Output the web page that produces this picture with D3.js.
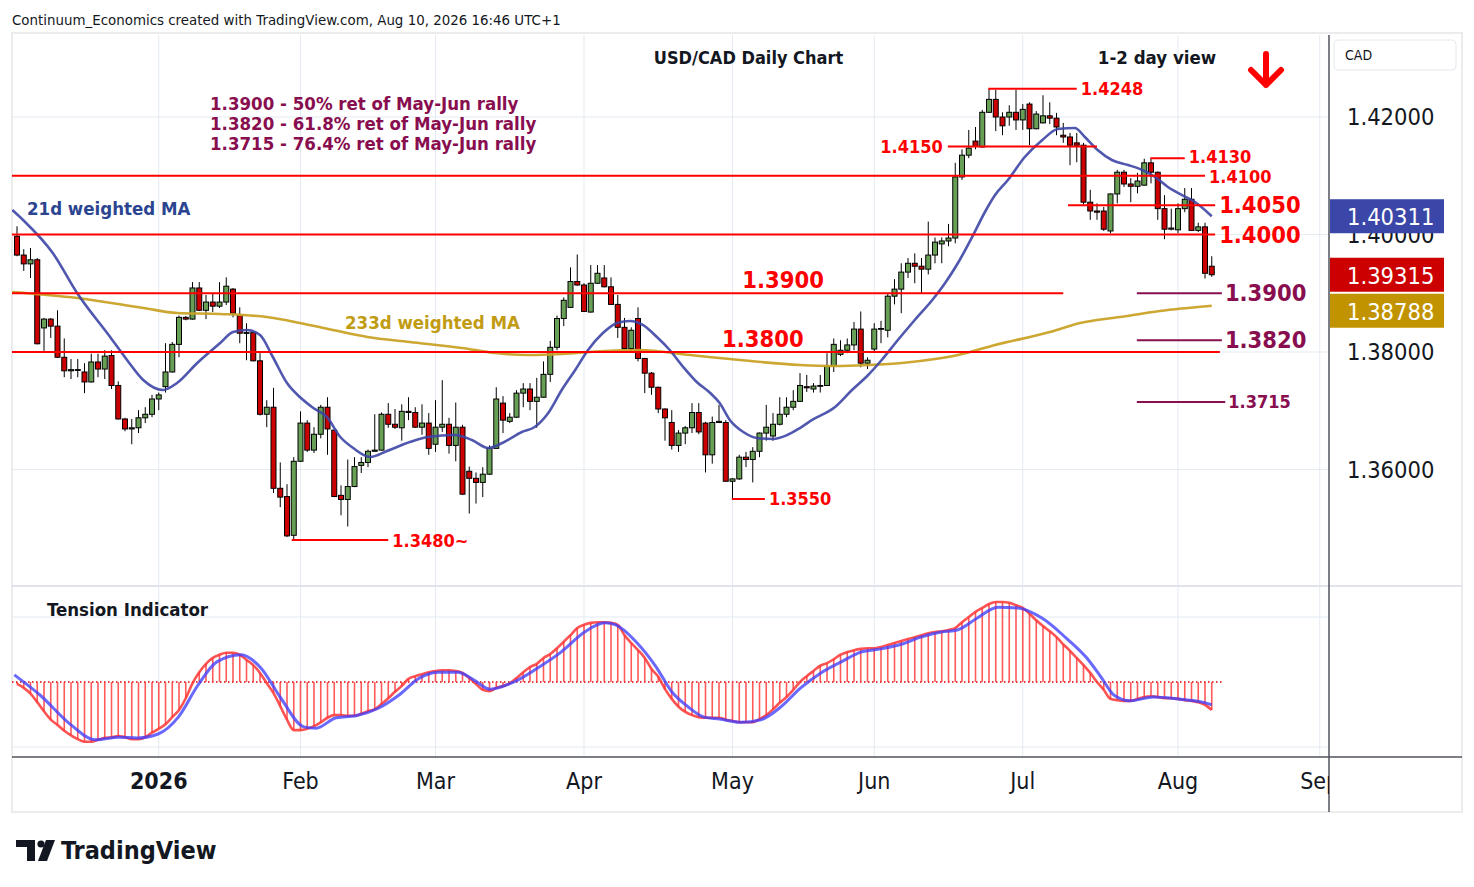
<!DOCTYPE html>
<html><head><meta charset="utf-8">
<script src="https://cdn.jsdelivr.net/npm/d3@7"></script>
<style>
body{margin:0;background:#fff}
svg{display:block}
text{font-family:"DejaVu Sans Condensed","DejaVu Sans",sans-serif;font-stretch:condensed}
</style></head>
<body><svg id="c" width="1474" height="887"></svg>
<script>
// ---------- DATA ----------
const openP=[1.3997,1.3965,1.3950,1.3957,1.3841,1.3856,1.3844,1.3791,1.3768,1.3770,
1.3766,1.3749,1.3783,1.3771,1.3794,1.3743,1.3686,1.3669,1.3671,1.3688,
1.3694,1.3720,1.3741,1.3766,1.3813,1.3859,1.3856,1.3909,1.3871,1.3885,
1.3878,1.3885,1.3907,1.3862,1.3832,1.3833,1.3785,1.3694,1.3706,1.3568,
1.3554,1.3488,1.3614,1.3679,1.3633,1.3660,1.3706,1.3667,1.3556,1.3549,
1.3571,1.3607,1.3612,1.3631,1.3633,1.3694,1.3677,1.3671,1.3699,1.3697,
1.3672,1.3679,1.3643,1.3672,1.3677,1.3641,1.3672,1.3597,1.3585,1.3578,
1.3592,1.3636,1.3713,1.3682,1.3689,1.3730,1.3737,1.3716,1.3723,1.3762,
1.3808,1.3857,1.3876,1.3920,1.3914,1.3868,1.3917,1.3926,1.3911,1.3881,
1.3842,1.3806,1.3857,1.3789,1.3764,1.3740,1.3703,1.3680,1.3641,1.3662,
1.3671,1.3697,1.3679,1.3625,1.3680,1.3680,1.3580,1.3584,1.3621,1.3617,
1.3631,1.3662,1.3657,1.3677,1.3694,1.3706,1.3716,1.3741,1.3737,1.3742,
1.3743,1.3776,1.3796,1.3803,1.3812,1.3839,1.3781,1.3805,1.3839,1.3837,
1.3895,1.3907,1.3936,1.3951,1.3946,1.3941,1.3965,1.3984,1.3989,1.3994,
1.4098,1.4135,1.4159,1.4149,1.4208,1.4230,1.4200,1.4200,1.4208,1.4195,
1.4222,1.4180,1.4190,1.4202,1.4198,1.4169,1.4166,1.4156,1.4152,1.4055,
1.4040,1.4040,1.4006,1.4069,1.4106,1.4086,1.4082,1.4084,1.4122,1.4106,
1.4044,1.4009,1.4008,1.4044,1.4060,1.4007,1.4013,1.3946];
const highP=[1.4014,1.3975,1.3977,1.3960,1.3858,1.3858,1.3871,1.3823,1.3788,1.3788,
1.3781,1.3797,1.3797,1.3803,1.3803,1.3750,1.3688,1.3686,1.3701,1.3706,
1.3727,1.3731,1.3815,1.3817,1.3862,1.3861,1.3919,1.3919,1.3897,1.3900,
1.3919,1.3927,1.3909,1.3876,1.3849,1.3834,1.3798,1.3718,1.3739,1.3612,
1.3575,1.3621,1.3699,1.3684,1.3672,1.3710,1.3723,1.3668,1.3573,1.3617,
1.3621,1.3621,1.3634,1.3694,1.3697,1.3713,1.3703,1.3711,1.3723,1.3706,
1.3711,1.3696,1.3718,1.3752,1.3688,1.3714,1.3676,1.3605,1.3595,1.3604,
1.3641,1.3740,1.3725,1.3696,1.3735,1.3747,1.3747,1.3756,1.3784,1.3819,
1.3862,1.3893,1.3944,1.3966,1.3917,1.3948,1.3948,1.3948,1.3927,1.3897,
1.3858,1.3842,1.3876,1.3790,1.3766,1.3741,1.3704,1.3701,1.3667,1.3674,
1.3713,1.3713,1.3681,1.3690,1.3710,1.3684,1.3585,1.3625,1.3630,1.3638,
1.3663,1.3710,1.3696,1.3723,1.3723,1.3735,1.3764,1.3761,1.3747,1.3761,
1.3798,1.3823,1.3820,1.3823,1.3851,1.3869,1.3791,1.3849,1.3853,1.3900,
1.3924,1.3951,1.3960,1.3968,1.3960,1.4022,1.3995,1.3995,1.4018,1.4122,
1.4145,1.4178,1.4183,1.4212,1.4248,1.4246,1.4208,1.4220,1.4246,1.4222,
1.4225,1.4210,1.4237,1.4225,1.4207,1.4190,1.4173,1.4173,1.4156,1.4076,
1.4053,1.4047,1.4070,1.4110,1.4110,1.4096,1.4105,1.4129,1.4130,1.4107,
1.4067,1.4044,1.4053,1.4079,1.4079,1.4020,1.4020,1.3963];
const lowP=[1.3963,1.3938,1.3926,1.3813,1.3802,1.3824,1.3790,1.3757,1.3754,1.3757,
1.3730,1.3748,1.3757,1.3754,1.3737,1.3685,1.3665,1.3643,1.3662,1.3679,
1.3689,1.3701,1.3731,1.3765,1.3791,1.3854,1.3855,1.3870,1.3856,1.3868,
1.3875,1.3880,1.3859,1.3815,1.3786,1.3784,1.3692,1.3672,1.3560,1.3536,
1.3485,1.3480,1.3613,1.3630,1.3628,1.3653,1.3625,1.3553,1.3522,1.3503,
1.3570,1.3594,1.3604,1.3630,1.3632,1.3671,1.3669,1.3649,1.3684,1.3671,
1.3659,1.3625,1.3630,1.3664,1.3627,1.3614,1.3557,1.3525,1.3542,1.3553,
1.3591,1.3635,1.3662,1.3679,1.3688,1.3706,1.3701,1.3671,1.3722,1.3749,
1.3803,1.3844,1.3875,1.3913,1.3868,1.3867,1.3916,1.3910,1.3880,1.3824,
1.3805,1.3802,1.3784,1.3730,1.3727,1.3696,1.3649,1.3634,1.3630,1.3643,
1.3662,1.3660,1.3595,1.3610,1.3679,1.3579,1.3550,1.3582,1.3604,1.3578,
1.3621,1.3649,1.3649,1.3675,1.3689,1.3701,1.3715,1.3732,1.3731,1.3731,
1.3742,1.3766,1.3793,1.3798,1.3803,1.3774,1.3771,1.3800,1.3815,1.3825,
1.3881,1.3866,1.3926,1.3917,1.3900,1.3932,1.3951,1.3951,1.3980,1.3985,
1.4093,1.4130,1.4145,1.4148,1.4207,1.4176,1.4169,1.4185,1.4178,1.4178,
1.4152,1.4179,1.4189,1.4188,1.4169,1.4156,1.4118,1.4123,1.4051,1.4025,
1.4025,1.4006,1.4002,1.4053,1.4081,1.4055,1.4070,1.4083,1.4087,1.4025,
1.3992,1.4007,1.4002,1.4038,1.4006,1.4004,1.3925,1.3928];
const closeP=[1.3965,1.3950,1.3957,1.3814,1.3856,1.3844,1.3791,1.3768,1.3770,1.3769,
1.3749,1.3783,1.3771,1.3793,1.3743,1.3686,1.3669,1.3671,1.3688,1.3694,
1.3720,1.3727,1.3766,1.3813,1.3859,1.3856,1.3909,1.3871,1.3885,1.3878,
1.3885,1.3912,1.3866,1.3832,1.3833,1.3785,1.3694,1.3706,1.3568,1.3553,
1.3487,1.3614,1.3679,1.3633,1.3660,1.3706,1.3669,1.3554,1.3549,1.3571,
1.3605,1.3612,1.3631,1.3633,1.3694,1.3677,1.3672,1.3699,1.3697,1.3672,
1.3679,1.3636,1.3672,1.3677,1.3641,1.3672,1.3558,1.3585,1.3578,1.3592,
1.3636,1.3720,1.3684,1.3689,1.3730,1.3737,1.3716,1.3723,1.3762,1.3808,
1.3857,1.3888,1.3920,1.3914,1.3869,1.3917,1.3934,1.3911,1.3881,1.3842,
1.3806,1.3837,1.3789,1.3764,1.3740,1.3703,1.3688,1.3641,1.3662,1.3671,
1.3697,1.3664,1.3625,1.3680,1.3682,1.3580,1.3584,1.3621,1.3617,1.3631,
1.3662,1.3672,1.3677,1.3694,1.3706,1.3716,1.3743,1.3739,1.3742,1.3743,
1.3776,1.3813,1.3803,1.3812,1.3839,1.3781,1.3786,1.3839,1.3840,1.3895,
1.3907,1.3936,1.3951,1.3946,1.3941,1.3965,1.3987,1.3989,1.3994,1.4098,
1.4135,1.4147,1.4150,1.4208,1.4230,1.4200,1.4185,1.4208,1.4195,1.4213,
1.4180,1.4205,1.4202,1.4198,1.4183,1.4166,1.4152,1.4152,1.4055,1.4040,
1.4038,1.4009,1.4069,1.4106,1.4086,1.4082,1.4091,1.4122,1.4106,1.4044,
1.4009,1.4011,1.4044,1.4060,1.4007,1.4013,1.3934,1.39315];

// 21d weighted MA, [bar index, price]
const ma21=[[-0.7,1.40417],[0.9,1.40247],[5.3,1.39685],[8.9,1.39004],[13.8,1.38255],[16.3,1.37864],[18.7,1.37523],[21.6,1.37353],[23.7,1.37472],[26.7,1.37813],[30.1,1.38153],[32.0,1.38340],[34.1,1.38374],[36.0,1.38289],[37.9,1.37915],[40.0,1.37472],[41.9,1.37234],[43.9,1.37047],[45.9,1.36894],[47.9,1.36553],[49.8,1.36366],[52.3,1.36213],[54.8,1.36315],[58.2,1.36468],[60.9,1.36553],[64.9,1.36587],[67.4,1.36502],[69.8,1.36366],[71.9,1.36451],[74.8,1.36638],[76.7,1.36723],[78.7,1.36962],[80.7,1.37353],[82.7,1.37694],[84.6,1.38034],[86.8,1.38323],[88.9,1.38494],[90.8,1.38528],[92.7,1.38460],[94.8,1.38255],[96.7,1.38034],[98.7,1.37745],[100.7,1.37489],[102.7,1.37302],[104.1,1.37132],[105.6,1.36843],[107.6,1.36638],[109.6,1.36536],[112.0,1.36519],[114.1,1.36587],[116.0,1.36706],[117.8,1.36843],[121.2,1.37064],[123.7,1.37353],[126.1,1.37609],[128.1,1.37864],[130.5,1.38204],[133.0,1.38545],[135.6,1.38885],[137.5,1.39174],[139.4,1.39515],[141.5,1.39957],[143.4,1.40383],[144.9,1.40672],[146.8,1.40928],[149.3,1.41319],[151.9,1.41609],[154.2,1.41796],[156.7,1.41813],[158.2,1.41660],[160.1,1.41438],[162.2,1.41268],[164.6,1.41183],[166.7,1.41098],[168.6,1.40979],[170.5,1.40809],[172.6,1.40672],[174.5,1.40553],[177,1.40311]];
// 233d weighted MA, [bar index, price]
const ma233=[[-0.7,1.39021],[8.9,1.38919],[18.7,1.38749],[23.7,1.38664],[30.1,1.38647],[37.0,1.38596],[41.9,1.38494],[46.8,1.38374],[51.9,1.38255],[58.2,1.38170],[65.9,1.38068],[70.8,1.37983],[75.7,1.37949],[80.7,1.37966],[87.1,1.38017],[92.3,1.38034],[99.7,1.37949],[107.1,1.37864],[116.0,1.37779],[121.2,1.37762],[126.1,1.37779],[131.1,1.37813],[136.0,1.37881],[139.4,1.37949],[144.9,1.38119],[153.0,1.38340],[157.5,1.38494],[163.4,1.38596],[169.3,1.38698],[177,1.38788]];

// Tension indicator (per bar) and its signal line [bar index, value]
const tension=[-3,-9,-18,-31,-45,-58,-66,-75,-82,-88,
-92,-92,-89,-86,-85,-83,-85,-88,-88,-85,
-78,-72,-65,-54,-43,-25,-2,15,28,37,
42,45,45,42,34,26,14,-2,-17,-37,
-58,-74,-74,-72,-68,-62,-55,-51,-51,-52,
-52,-49,-45,-42,-34,-25,-15,-6,5,9,
12,15,17,18,18,17,14,6,-3,-12,
-14,-9,-6,-2,6,15,23,28,37,43,
52,62,72,83,88,91,92,92,91,88,
72,60,49,37,20,8,-11,-26,-38,-46,
-51,-54,-55,-55,-55,-58,-60,-62,-62,-62,
-57,-51,-42,-32,-23,-12,0,9,17,25,
29,35,42,46,49,51,52,52,54,57,
60,63,66,69,72,75,77,78,80,83,
92,100,108,114,120,123,123,122,118,114,
105,95,86,78,69,58,48,37,26,14,
0,-12,-26,-28,-29,-29,-26,-23,-22,-23,
-25,-25,-26,-28,-29,-31,-35,-43];
const tensionSignal=[[-0.4,11],[3.4,-20],[8.0,-66],[11.6,-89],[15.1,-85],[17.9,-86],[20.9,-80],[23.9,-54],[26.8,-5],[29.6,31],[33.2,42],[36.1,22],[39.1,-25],[42.5,-69],[44.3,-71],[47.3,-55],[50.2,-52],[53.6,-40],[56.6,-20],[59.6,6],[62.5,15],[65.3,15],[67.7,3],[70.1,-11],[73.6,0],[77.2,22],[80.6,46],[84.1,77],[87.1,91],[88.7,88],[91.7,62],[94.7,23],[97.0,-15],[99.4,-38],[101.8,-54],[104.1,-57],[107.3,-62],[110.2,-58],[113.2,-38],[116.1,-9],[119.1,14],[122.1,31],[125.0,46],[128.0,51],[131.0,58],[133.9,69],[136.9,77],[139.3,80],[142.2,98],[145.3,115],[148.3,114],[151.9,98],[155.4,68],[158.4,38],[160.7,6],[162.5,-20],[164.9,-29],[168.4,-23],[172.0,-26],[175.6,-31],[177.0,-35]];

const monthLabels=["2026","Feb","Mar","Apr","May","Jun","Jul","Aug","Sep"];
const monthStart=[21,42,62,84,106,127,149,172,193];
const priceTicks=[1.42,1.40,1.38,1.36];
const priceTickLabels=["1.42000","1.40000","1.38000","1.36000"];

// Support/resistance levels: price, label, from bar, to bar
const redLevels=[
 {p:1.4100,t:"1.4100",a:-1,b:176.0,big:false,pos:"right",dy:1},
 {p:1.4000,t:"1.4000",a:-1,b:177.5,big:true,pos:"right"},
 {p:1.3900,t:"1.3900",a:-1,b:155.0,big:true,pos:"above",cx:113.5},
 {p:1.3800,t:"1.3800",a:-1,b:178.2,big:true,pos:"above",cx:110.5},
 {p:1.4050,t:"1.4050",a:155.7,b:177.5,big:true,pos:"right"},
 {p:1.4150,t:"1.4150",a:137.9,b:160.0,big:false,pos:"left"},
 {p:1.4248,t:"1.4248",a:143.9,b:157.0,big:false,pos:"right"},
 {p:1.4130,t:"1.4130",a:167.9,b:173.0,big:false,pos:"right",dy:-1.5},
 {p:1.3550,t:"1.3550",a:105.9,b:110.8,big:false,pos:"right"},
 {p:1.3480,t:"1.3480~",a:40.7,b:55.0,big:false,pos:"right"}
];
const retLevels=[
 {p:1.3900,t:"1.3900",a:165.9,b:178.5,big:true},
 {p:1.3820,t:"1.3820",a:165.9,b:178.5,big:true},
 {p:1.3715,t:"1.3715",a:165.9,b:179.0,big:false}
];
const retNotes=["1.3900 - 50% ret of May-Jun rally","1.3820 - 61.8% ret of May-Jun rally","1.3715 - 76.4% ret of May-Jun rally"];
const lastValues=[{v:1.40311,c:"#3B47A8"},{v:1.39315,c:"#CC0000"},{v:1.38788,c:"#C29300"}];

// ---------- LAYOUT ----------
const L=12, R=1329, RR=1462, MT=35, MB=585, TB=757, BOT=812;
const svg=d3.select("#c");
const x=d3.scaleLinear().domain([0,177]).range([17,1211.75]);
const y=d3.scaleLinear().domain([1.36,1.42]).range([469.5,117]);
const ty=d3.scaleLinear().domain([-100,100]).range([747,617]);
const GRID="#e3eaf2", RED="#FF0000", MAROON="#880E4F", INK="#131722";

const defs=svg.append("defs");
defs.append("clipPath").attr("id","mainClip").append("rect").attr("x",L).attr("y",MT).attr("width",R-L).attr("height",MB-MT);
defs.append("clipPath").attr("id","tClip").append("rect").attr("x",L).attr("y",MB+2).attr("width",R-L).attr("height",TB-MB-2);
defs.append("clipPath").attr("id","axClip").append("rect").attr("x",L).attr("y",TB).attr("width",R-L).attr("height",BOT-TB);
defs.append("clipPath").attr("id","tickClip").append("rect").attr("x",R).attr("y",MT).attr("width",RR-R).attr("height",MB-MT);

// frame
svg.append("rect").attr("x",L).attr("y",33).attr("width",RR-L).attr("height",BOT-33).attr("fill","none").attr("stroke","#ececec").attr("stroke-width",2);

// gridlines
const g=svg.append("g");
g.selectAll(".vg").data(monthStart).join("line").attr("x1",d=>x(d)).attr("x2",d=>x(d)).attr("y1",MT).attr("y2",TB).attr("stroke",GRID).attr("stroke-width",1);
g.selectAll(".hg").data(priceTicks).join("line").attr("x1",L).attr("x2",R).attr("y1",d=>y(d)).attr("y2",d=>y(d)).attr("stroke",GRID);
g.selectAll(".tg").data([100,-100]).join("line").attr("x1",L).attr("x2",R).attr("y1",d=>ty(d)).attr("y2",d=>ty(d)).attr("stroke",GRID);

// pane separators / axes lines
svg.append("line").attr("x1",L).attr("x2",RR).attr("y1",MB+1).attr("y2",MB+1).attr("stroke","#e0e3eb").attr("stroke-width",2);
svg.append("line").attr("x1",L).attr("x2",RR).attr("y1",TB).attr("y2",TB).attr("stroke","#50535e").attr("stroke-width",1.5);
svg.append("line").attr("x1",R).attr("x2",R).attr("y1",MT).attr("y2",BOT).attr("stroke","#50535e").attr("stroke-width",1.5);

// ---------- MAIN PANE ----------
const main=svg.append("g").attr("clip-path","url(#mainClip)");
const bars=d3.range(openP.length);
const cg=main.append("g");
cg.selectAll(".wick").data(bars).join("line")
  .attr("x1",i=>x(i)).attr("x2",i=>x(i)).attr("y1",i=>y(highP[i])).attr("y2",i=>y(lowP[i]))
  .attr("stroke","#000").attr("stroke-width",1);
cg.selectAll(".body").data(bars).join("rect")
  .attr("x",i=>x(i)-2.5).attr("width",5)
  .attr("y",i=>y(Math.max(openP[i],closeP[i])))
  .attr("height",i=>Math.max(0.8,Math.abs(y(openP[i])-y(closeP[i]))))
  .attr("fill",i=>closeP[i]>=openP[i]?"#67A055":"#CC0000")
  .attr("stroke","#000").attr("stroke-width",1);

const maLine=d3.line().x(d=>x(d[0])).y(d=>y(d[1])).curve(d3.curveMonotoneX);
main.append("path").attr("d",maLine(ma233)).attr("fill","none").attr("stroke","#C9A227").attr("stroke-width",2.6).attr("opacity",0.95);
main.append("path").attr("d",maLine(ma21)).attr("fill","none").attr("stroke","#3D45A5").attr("stroke-width",2.6).attr("opacity",0.9);

// levels
const xl=v=>Math.max(L,x(v));
main.selectAll(".rl").data(redLevels).join("line")
  .attr("x1",d=>xl(d.a)).attr("x2",d=>x(d.b)).attr("y1",d=>y(d.p)).attr("y2",d=>y(d.p))
  .attr("stroke",RED).attr("stroke-width",2);
main.selectAll(".ml").data(retLevels).join("line")
  .attr("x1",d=>x(d.a)).attr("x2",d=>x(d.b)).attr("y1",d=>y(d.p)).attr("y2",d=>y(d.p))
  .attr("stroke",MAROON).attr("stroke-width",2);

const BIG=23.5, SMALL=18;
svg.selectAll(".rlt").data(redLevels).join("text")
  .attr("x",d=>d.pos==="right"?x(d.b)+4:d.pos==="left"?x(d.a)-5:x(d.cx))
  .attr("y",d=>(d.pos==="above"?y(d.p)-13:y(d.p))+(d.dy||0))
  .attr("text-anchor",d=>d.pos==="right"?"start":d.pos==="left"?"end":"middle")
  .attr("dominant-baseline","central").attr("font-weight","bold")
  .attr("font-size",d=>d.big?BIG:SMALL).attr("fill",RED).text(d=>d.t);
svg.selectAll(".mlt").data(retLevels).join("text")
  .attr("x",d=>x(d.b)+3).attr("y",d=>y(d.p))
  .attr("dominant-baseline","central").attr("font-weight","bold")
  .attr("font-size",d=>d.big?BIG:SMALL).attr("fill",MAROON).text(d=>d.t);

// notes
svg.selectAll(".note").data(retNotes).join("text")
  .attr("x",210).attr("y",(d,i)=>103+i*20).attr("dominant-baseline","central")
  .attr("font-size",18.5).attr("font-weight","bold").attr("fill",MAROON).text(d=>d);
svg.append("text").attr("x",27).attr("y",208).attr("dominant-baseline","central").attr("font-size",18.5).attr("font-weight","bold").attr("fill","#2C4591").text("21d weighted MA");
svg.append("text").attr("x",345).attr("y",322).attr("dominant-baseline","central").attr("font-size",18.5).attr("font-weight","bold").attr("fill","#C29B14").text("233d weighted MA");

// titles
svg.append("text").attr("x",12).attr("y",20).attr("dominant-baseline","central").attr("font-size",13.4)
  .style("font-family","'DejaVu Sans', sans-serif").style("font-stretch","normal").attr("fill",INK)
  .text("Continuum_Economics created with TradingView.com, Aug 10, 2026 16:46 UTC+1");
svg.append("text").attr("x",748.5).attr("y",57).attr("text-anchor","middle").attr("dominant-baseline","central").attr("font-size",18).attr("font-weight","bold").attr("fill",INK).text("USD/CAD Daily Chart");
svg.append("text").attr("x",1157).attr("y",57).attr("text-anchor","middle").attr("dominant-baseline","central").attr("font-size",18.5).attr("font-weight","bold").attr("fill",INK).text("1-2 day view");
// arrow
svg.append("path").attr("d","M1266,54 V85 M1251,70 L1266,85 L1281,70").attr("fill","none").attr("stroke","#FF0000").attr("stroke-width",6).attr("stroke-linecap","round").attr("stroke-linejoin","round");

// ---------- RIGHT AXIS ----------
svg.append("rect").attr("x",1334).attr("y",40).attr("width",122).attr("height",30).attr("rx",4).attr("fill","#fff").attr("stroke","#e6e8ee");
svg.append("text").attr("x",1345).attr("y",55).attr("dominant-baseline","central").attr("font-size",14).attr("fill",INK).text("CAD");
svg.append("g").attr("clip-path","url(#tickClip)").selectAll(".pt").data(priceTicks).join("text")
  .attr("x",1347).attr("y",d=>y(d)).attr("dominant-baseline","central")
  .attr("font-size",23.5).attr("fill",INK).text((d,i)=>priceTickLabels[i]);
// last value labels (avoid overlap)
const BH=34; let prevBottom=-1e9;
const boxes=lastValues.map(d=>({...d,cy:y(d.v)})).sort((a,b)=>a.cy-b.cy).map(d=>{
  let top=d.cy-BH/2; if(top<prevBottom+2) top=prevBottom+2; prevBottom=top+BH; return {...d,top};});
const lb=svg.selectAll(".lb").data(boxes).join("g");
lb.append("rect").attr("x",1330).attr("y",d=>d.top).attr("width",114).attr("height",BH).attr("fill",d=>d.c);
lb.append("text").attr("x",1347).attr("y",d=>d.top+BH/2+1).attr("dominant-baseline","central").attr("font-size",23.5).attr("fill","#fff").text(d=>d.v.toFixed(5));

// ---------- TENSION PANE ----------
const tp=svg.append("g").attr("clip-path","url(#tClip)");
tp.append("line").attr("x1",L).attr("x2",1222).attr("y1",ty(0)).attr("y2",ty(0)).attr("stroke","#E00000").attr("stroke-width",1.3).attr("stroke-dasharray","1.5,2.5");
tp.selectAll(".hb").data(bars).join("line")
  .attr("x1",i=>x(i)).attr("x2",i=>x(i)).attr("y1",ty(0)).attr("y2",i=>ty(tension[i]))
  .attr("stroke","#FF3030").attr("stroke-opacity",0.8).attr("stroke-width",1.6);
tp.append("path").attr("d",d3.line().x((d,i)=>x(i)).y(d=>ty(d)).curve(d3.curveMonotoneX)(tension))
  .attr("fill","none").attr("stroke","#FF3535").attr("stroke-opacity",0.85).attr("stroke-width",2.6);
tp.append("path").attr("d",d3.line().x(d=>x(d[0])).y(d=>ty(d[1])).curve(d3.curveMonotoneX)(tensionSignal))
  .attr("fill","none").attr("stroke","#3F3FFF").attr("stroke-opacity",0.78).attr("stroke-width",3);
svg.append("text").attr("x",47).attr("y",609).attr("dominant-baseline","central").attr("font-size",18.5).attr("font-weight","bold").attr("fill",INK).text("Tension Indicator");

// ---------- TIME AXIS ----------
const ax=svg.append("g").attr("clip-path","url(#axClip)");
ax.selectAll(".mlab").data(monthLabels).join("text")
  .attr("x",(d,i)=>x(monthStart[i])).attr("y",781).attr("text-anchor","middle").attr("dominant-baseline","central")
  .attr("font-size",23).attr("font-weight",(d,i)=>i===0?"bold":"normal").attr("fill",INK).text(d=>d);

// ---------- LOGO ----------
const logo=svg.append("g").attr("fill","#131722");
logo.append("path").attr("d","M16,840 H35 V861 H27 V847 H16 Z");
logo.append("circle").attr("cx",41).attr("cy",844).attr("r",3.6);
logo.append("path").attr("d","M46,840 H55 L47,861 H38 Z");
logo.append("text").attr("x",61).attr("y",850).attr("dominant-baseline","central").attr("font-size",25).attr("font-weight",600).text("TradingView");
</script></body></html>
